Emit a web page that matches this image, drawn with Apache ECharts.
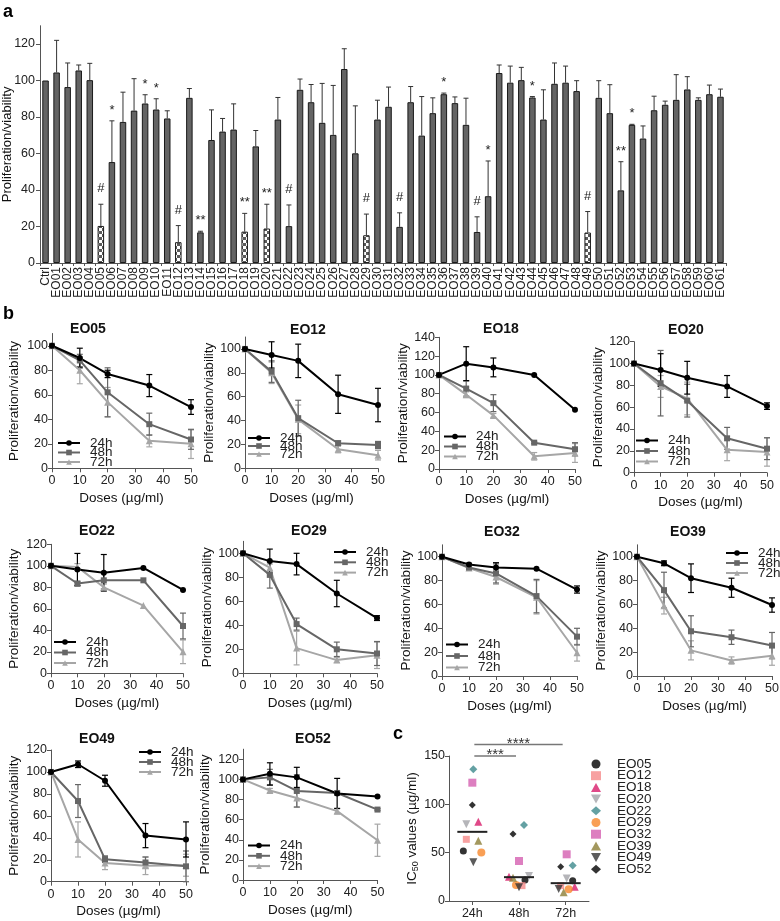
<!DOCTYPE html>
<html><head><meta charset="utf-8">
<script src="https://cdn.jsdelivr.net/npm/echarts@6/dist/echarts.min.js"></script>
<style>html,body{margin:0;padding:0;background:#fff}#c{width:780px;height:921px}</style>
</head><body><div id="c"></div>
<script>
// ---------------- DATA ----------------
// Panel a
const barCategories = ['Ctrl','EO01','EO02','EO03','EO04','EO05','EO06','EO07','EO08','EO09','EO10',
  'EO11','EO12','EO13','EO14','EO15','EO16','EO17','EO18','EO19','EO20','EO21','EO22','EO23','EO24',
  'EO25','EO26','EO27','EO28','EO29','EO30','EO31','EO32','EO33','EO34','EO35','EO36','EO37','EO38',
  'EO39','EO40','EO41','EO42','EO43','EO44','EO45','EO46','EO47','EO48','EO49','EO50','EO51','EO52',
  'EO53','EO54','EO55','EO56','EO57','EO58','EO59','EO60','EO61'];
const barMeans = [100,104.4,96.4,105.5,100.2,20.3,55.3,77.3,83.5,87.4,84.1,79.2,11.4,90.5,16.8,67.4,72,73.1,
  17.2,63.9,18.9,78.6,20.2,94.9,88.1,76.8,70.2,106.3,60.1,15.2,78.6,85.6,19.8,88.1,69.8,82.1,92.5,87.6,75.7,
  17,36.6,104.1,98.8,100.2,90.7,78.6,98.2,98.8,94.2,16.7,90.5,82.1,39.8,75.7,68.2,83.7,86.7,89.4,95.1,89.4,92.5,91.1];
const barSD = [0,17.6,13.2,3,9.2,11.9,22.6,16.3,17.5,4.8,5.9,4.2,9.1,5.1,0.6,16.5,7.2,14.1,10,8.7,13.3,12.1,11.6,
  5.9,9.7,21.6,27.1,11.1,26,11.6,10.6,10.8,7.7,8.6,21.4,8.4,0.6,3.4,14.6,8.3,19.3,4.4,9.1,7,0.5,16.3,11.4,9.1,5.7,
  11.5,9.4,15.6,15.7,0.3,6.9,7.7,2,13.8,7,1.1,5,4.2];
const checkeredBars = ['EO05','EO12','EO18','EO20','EO29','EO49'];
const barMarkNames = ['EO05','EO06','EO09','EO10','EO12','EO14','EO18','EO20','EO22','EO29','EO32','EO36','EO39','EO40','EO44','EO49','EO52','EO53'];
const barMarkTexts = ['#','*','*','*','#','**','**','**','#','#','#','*','#','*','*','#','**','*'];
const aYTicks = [0,20,40,60,80,100,120];

// Panel b
const bNames = ['EO05','EO12','EO18','EO20','EO22','EO29','EO32','EO39','EO49','EO52'];
const doses = [0,10,20,35,50];
const timeNames = ['24h','48h','72h'];
const mean24 = [
  [100,90,77,67.5,50],[100,95,90,62,53],[100,112,108,100,63],[100,94,87,79,61],[100,96.5,93.5,98,77.5],
  [100,93.5,91,66.5,46],[100,93.5,91,90,72.5],[100,94.5,82,74,59.5],[100,107,92,42,38.5],[100,105.5,102,86,83]];
const sd24 = [
  [0,8,3,9,6],[0,11,14,16,14],[0,18,10,0,0],[0,15,15,10,3],[0,15,17,0,0],
  [0,10,9,11,2],[0,1,4,0,3],[0,2,12,8,6],[0,3,5,11,16],[0,11,10,15,0]];
const mean48 = [
  [100,88,62,36,23.5],[100,81,42,21,19.5],[100,85.5,70,28,21],[100,82,66,31.5,22],[100,83.5,86.5,86.5,44],
  [100,82,41,20,16.5],[100,91,86,67,33],[100,72,37.5,32.5,25.5],[100,73.5,20.5,17.5,14],[100,102,88.5,86.5,70]];
const sd48 = [
  [0,5,20,9,8],[0,9,15,2,3],[0,8,9,1,7],[0,30,15,10,10],[0,2,8,0,12],
  [0,11,5,6,10],[0,1,8,14,7],[0,15,13,6,11],[0,15,3,5,14],[0,8,16,1,1]];
const mean72 = [
  [100,80,54,22.5,20],[100,80,41,16,11],[100,79,57,13.5,17],[100,79,68,21,19],[100,99,80,63,20],
  [100,88,21,11,15],[100,90.5,83,66,19.5],[100,59,21.5,13,17],[100,38.5,17,14.5,15],[100,89,81.5,68.5,39.5]];
const sd72 = [
  [0,11,12,5,12],[0,9,12,3,4],[0,3,2,4,10],[0,10,15,10,13],[0,3,3,0,11],
  [0,3,14,2,11],[0,1,6,14,7],[0,7,8,3,8],[0,16,6,8,10],[0,2,9,3,16]];
const bYMax = [110,110,140,120,120,110,110,110,120,130];
const bYTicks = [
  [0,20,40,60,80,100],[0,20,40,60,80,100],[0,20,40,60,80,100,120,140],[0,20,40,60,80,100,120],
  [0,20,40,60,80,100,120],[0,20,40,60,80,100],[0,20,40,60,80,100],[0,20,40,60,80,100],
  [0,20,40,60,80,100,120],[0,20,40,60,80,100,120]];

// Panel c
const icTimes = ['24h','48h','72h'];
const icLines = ['EO05','EO12','EO18','EO20','EO22','EO29','EO32','EO39','EO49','EO52'];
const ic24 = [51.7,63.8,82,79.3,136.2,50.3,122.4,62.4,40,99.3];
const ic48 = [21.7,15.9,25.2,25.9,78.6,16.6,41.4,24.1,14.1,69.3];
const ic72 = [21,15.9,14.8,23.4,36.6,12.1,48.3,9,12.4,35.5];
const cYTicks = [0,50,100,150];
const sigPairs = [[0,1,'***'],[0,2,'****']];
const sigLevels = [150,162];

// ---------------- STYLE ----------------
const NARROW = '"Liberation Sans Narrow","Liberation Sans",Arial,sans-serif';
const REG = '"Liberation Sans",Arial,sans-serif';
const AX = '#555';
const timeColors = ['#000000','#666666','#a6a6a6'];
const timeSymbols = ['circle','rect','triangle'];
const timeSymSize = [6,6,7];
const invTri = 'path://M0,0L10,0L5,9Z';
const icColors = ['#000000','#f58a8a','#d81b6a','#a3a3a8','#3d8a8c','#f7872b','#d45fb0','#8c7e36','#333333','#000000'];
const icSymbols = ['circle','rect','triangle',invTri,'diamond','circle','rect','triangle',invTri,'diamond'];
const icSizes = [7,7,8,8,8,8,8,8,8,7];
const icJitter = [ // px offsets per point, style only
  [-9,-6,6,-6,1,9,0,6,1,0],
  [6,3,-10,10,5,-3,0,-6,0,-6],
  [7,-5,9,1,7,3,1,-2,-7,-5]];

const bLayout = [
  {l:52,t:333.5,w:139,h:134.8,tx:88,ty:329,lg:[57,436],gap:-4.5,ng:31},
  {l:245,t:337,w:133,h:131.3,tx:308,ty:330,lg:[247,431],gap:-6,ng:21},
  {l:439,t:337.3,w:136,h:131.7,tx:501,ty:329,lg:[443,429.5],gap:-4,ng:29},
  {l:634,t:341.7,w:133,h:131,tx:686,ty:330,lg:[635,433.5],gap:-3.5,ng:29},
  {l:51,t:544.3,w:132,h:129,tx:97,ty:531,lg:[53,635],gap:-3.5,ng:30},
  {l:243,t:541.3,w:134,h:132,tx:309,ty:531,lg:[333,545],gap:-3.7,ng:29},
  {l:442,t:544.8,w:135,h:131.2,tx:502,ty:532,lg:[445,637.5],gap:-2.5,ng:28},
  {l:637,t:544.8,w:135,h:131.2,tx:688,ty:532,lg:[725,546],gap:-4,ng:28},
  {l:51,t:750,w:135,h:131.7,tx:97,ty:739,lg:[138,745],gap:-4,ng:30},
  {l:243,t:749.2,w:134.5,h:130.8,tx:313,ty:739,lg:[247,838.5],gap:-3.7,ng:31}
];

function makeChecker(){
  const c=document.createElement('canvas'); c.width=6; c.height=6;
  const g=c.getContext('2d'); g.fillStyle='#ffffff'; g.fillRect(0,0,6,6);
  g.fillStyle='#5a5a5a'; g.fillRect(0,0,3,3); g.fillRect(3,3,3,3);
  return c;
}

const grids=[], xAxes=[], yAxes=[], series=[], legends=[], graphics=[];

function axisBase(){
  return {
    axisLine:{show:true,lineStyle:{color:AX,width:1}},
    axisTick:{show:true,length:4,lineStyle:{color:AX}},
    splitLine:{show:false},
    axisLabel:{color:'#222',fontFamily:NARROW,fontSize:12}
  };
}
function gridBox(l,t,w,h){return {left:l,top:t,width:w,height:h,containLabel:false,outerBoundsMode:'none'};}

// ---------------- PANEL A ----------------
grids.push(gridBox(40,25.75,686,237.25));
xAxes.push(Object.assign(axisBase(),{gridIndex:0,type:'category',data:barCategories,
  axisTick:{show:true,length:3,interval:0,lineStyle:{color:AX}},
  axisLabel:{rotate:90,interval:0,fontSize:12,fontFamily:REG,color:'#222',margin:4}}));
yAxes.push(Object.assign(axisBase(),{gridIndex:0,type:'value',min:0,max:130,
  axisTick:{show:true,length:4,customValues:aYTicks,lineStyle:{color:AX}},
  axisLabel:{customValues:aYTicks,fontSize:12.5,fontFamily:NARROW,color:'#222',margin:5},
  name:'Proliferation/viability',nameLocation:'middle',nameGap:26,nameMoveOverlap:false,
  nameTextStyle:{fontSize:13,fontFamily:NARROW,color:'#111'}}));
const checker = makeChecker();
series.push({type:'bar',xAxisIndex:0,yAxisIndex:0,barWidth:6.5,
  data:barMeans.map((v,i)=>checkeredBars.includes(barCategories[i])
     ? {value:v,itemStyle:{color:{image:checker,repeat:'repeat'}}} : v),
  itemStyle:{color:'#646464',borderColor:'#1a1a1a',borderWidth:1},silent:true});
series.push({type:'custom',xAxisIndex:0,yAxisIndex:0,silent:true,
  data:barMeans.map((v,i)=>[i,v,barSD[i]]),encode:{x:0,y:1},
  renderItem:function(p,api){
    const x=api.value(0),m=api.value(1),s=api.value(2);
    if(!s) return null;
    const b=api.coord([x,m]), t=api.coord([x,m+s]);
    const st={stroke:'#333',lineWidth:1};
    return {type:'group',children:[
      {type:'line',shape:{x1:b[0],y1:b[1],x2:t[0],y2:t[1]},style:st},
      {type:'line',shape:{x1:t[0]-2.5,y1:t[1],x2:t[0]+2.5,y2:t[1]},style:st}]};
  }});
series.push({type:'custom',xAxisIndex:0,yAxisIndex:0,silent:true,
  data:barMarkNames.map((n,k)=>{const i=barCategories.indexOf(n);return [i,barMeans[i]+barSD[i]];}),
  encode:{x:0,y:1},
  renderItem:function(p,api){
    const x=api.value(0),top=api.value(1);
    const txt=barMarkTexts[p.dataIndex];
    const pt=api.coord([x,top]);
    const off = txt==='#'?9:4;
    return {type:'text',x:pt[0],y:pt[1]-off,style:{text:txt,fill:'#222',
      font:'13px '+REG,align:'center',verticalAlign:'bottom'}};
  }});

// ---------------- PANEL B ----------------
const means=[mean24,mean48,mean72], sds=[sd24,sd48,sd72];
bNames.forEach((nm,k)=>{
  const L=bLayout[k], gi=grids.length;
  grids.push(gridBox(L.l,L.t,L.w,L.h));
  xAxes.push(Object.assign(axisBase(),{gridIndex:gi,type:'value',min:0,max:50,interval:10,
    axisLabel:{color:'#222',fontFamily:NARROW,fontSize:12.5,margin:6},
    name:'Doses (µg/ml)',nameLocation:'middle',nameGap:23,
    nameTextStyle:{fontSize:13.5,fontFamily:NARROW,color:'#111'}}));
  yAxes.push(Object.assign(axisBase(),{gridIndex:gi,type:'value',min:0,max:bYMax[k],
    axisTick:{show:true,length:4,customValues:bYTicks[k],lineStyle:{color:AX}},
    axisLabel:{customValues:bYTicks[k],color:'#222',fontFamily:NARROW,fontSize:12.5,margin:4},
    name:'Proliferation/viability',nameLocation:'middle',nameGap:L.ng,
    nameTextStyle:{fontSize:13.5,fontFamily:NARROW,color:'#111'}}));
  for(let t=2;t>=0;t--){
    series.push({type:'custom',name:'err'+t+'_'+nm,xAxisIndex:gi,yAxisIndex:gi,silent:true,z:2,
      data:doses.map((d,j)=>[d,means[t][k][j],sds[t][k][j]]),encode:{x:0,y:1},
      renderItem:(function(col){return function(p,api){
        const x=api.value(0),m=api.value(1),s=api.value(2);
        if(!s) return null;
        const a=api.coord([x,m+s]), b=api.coord([x,m-s]);
        const st={stroke:col,lineWidth:1.2};
        return {type:'group',children:[
          {type:'line',shape:{x1:a[0],y1:a[1],x2:b[0],y2:b[1]},style:st},
          {type:'line',shape:{x1:a[0]-3,y1:a[1],x2:a[0]+3,y2:a[1]},style:st},
          {type:'line',shape:{x1:b[0]-3,y1:b[1],x2:b[0]+3,y2:b[1]},style:st}]};
      };})(timeColors[t])});
  }
  for(let t=2;t>=0;t--){
    series.push({type:'line',name:timeNames[t],xAxisIndex:gi,yAxisIndex:gi,z:3,
      data:doses.map((d,j)=>[d,means[t][k][j]]),
      symbol:timeSymbols[t],symbolSize:timeSymSize[t],showAllSymbol:true,
      lineStyle:{color:timeColors[t],width:2},itemStyle:{color:timeColors[t]},
      emphasis:{disabled:true},animation:false});
  }
  legends.push({orient:'vertical',left:L.lg[0],top:L.lg[1],data:timeNames.slice(),
    itemWidth:22,itemHeight:7,itemGap:L.gap,selectedMode:false,padding:0,
    textStyle:{fontSize:13.5,fontFamily:NARROW,color:'#222',padding:[0,0,0,5]}});
  graphics.push({type:'text',x:L.tx,y:L.ty,style:{text:nm,font:'bold 14px '+NARROW,fill:'#111',
    align:'center',verticalAlign:'middle'}});
});

// ---------------- PANEL C ----------------
const gc=grids.length;
grids.push(gridBox(449,756,140,145));
xAxes.push(Object.assign(axisBase(),{gridIndex:gc,type:'category',data:icTimes,
  axisTick:{show:true,length:4,alignWithLabel:true,lineStyle:{color:AX}},
  axisLabel:{color:'#222',fontFamily:NARROW,fontSize:12.5,margin:6}}));
yAxes.push(Object.assign(axisBase(),{gridIndex:gc,type:'value',min:0,max:150,
  axisTick:{show:true,length:4,customValues:cYTicks,lineStyle:{color:AX}},
  axisLabel:{customValues:cYTicks,color:'#222',fontFamily:NARROW,fontSize:12.5,margin:4},
  name:'IC{s|50} values (µg/ml)',nameLocation:'middle',nameGap:29,
  nameTextStyle:{fontSize:13.5,fontFamily:NARROW,color:'#111',rich:{s:{fontSize:9,fontFamily:NARROW,verticalAlign:'bottom',padding:[6,0,0,0]}}}}));
const icAll=[ic24,ic48,ic72];
icLines.forEach((nm,i)=>{
  series.push({type:'scatter',name:nm,xAxisIndex:gc,yAxisIndex:gc,z:4,
    symbol:icSymbols[i],symbolSize:icSizes[i],itemStyle:{color:icColors[i]},
    data:icAll.map((arr,t)=>({value:[t,arr[i]],symbolOffset:[icJitter[t][i],0]})),
    emphasis:{disabled:true}});
});
function median(a){const s=a.slice().sort((x,y)=>x-y);const n=s.length;return n%2?s[(n-1)/2]:(s[n/2-1]+s[n/2])/2;}
series.push({type:'custom',name:'median',xAxisIndex:gc,yAxisIndex:gc,silent:true,z:5,
  data:icAll.map((arr,t)=>[t,median(arr)]),encode:{x:0,y:1},
  renderItem:function(p,api){const c=api.coord([api.value(0),api.value(1)]);
    return {type:'line',shape:{x1:c[0]-15,y1:c[1],x2:c[0]+15,y2:c[1]},style:{stroke:'#222',lineWidth:2}};}});
series.push({type:'custom',name:'sig',xAxisIndex:gc,yAxisIndex:gc,silent:true,clip:false,
  data:sigPairs.map((s,k)=>[s[0],sigLevels[k]]),encode:{x:0,y:1},
  renderItem:function(p,api){
    const s=sigPairs[p.dataIndex];
    const a=api.coord([s[0],sigLevels[p.dataIndex]]), b=api.coord([s[1],sigLevels[p.dataIndex]]);
    const x1=a[0]+2,x2=b[0]-3;
    return {type:'group',children:[
      {type:'line',shape:{x1:x1,y1:a[1],x2:x2,y2:a[1]},style:{stroke:'#777',lineWidth:1.5}},
      {type:'text',x:(x1+x2)/2,y:a[1]-1,style:{text:s[2],fill:'#333',font:'15px '+REG,align:'center',verticalAlign:'middle'}}]};
  }});
legends.push({orient:'vertical',left:591,top:757,itemWidth:10,itemHeight:9,itemGap:-2.3,selectedMode:false,padding:0,
  data:icLines.map((n,i)=>({name:n,icon:icSymbols[i]})),
  textStyle:{fontSize:13.5,fontFamily:NARROW,color:'#222',padding:[0,0,0,11]}});

// Panel letters
graphics.push({type:'text',x:3,y:12,style:{text:'a',font:'bold 18px '+REG,fill:'#000',verticalAlign:'middle'}});
graphics.push({type:'text',x:3,y:314,style:{text:'b',font:'bold 18px '+REG,fill:'#000',verticalAlign:'middle'}});
graphics.push({type:'text',x:393,y:734,style:{text:'c',font:'bold 18px '+REG,fill:'#000',verticalAlign:'middle'}});

const chart=echarts.init(document.getElementById('c'),null,{renderer:'canvas',width:780,height:921});
chart.setOption({animation:false,backgroundColor:'#ffffff',
  textStyle:{fontFamily:NARROW},
  grid:grids,xAxis:xAxes,yAxis:yAxes,series:series,legend:legends,graphic:graphics});
</script></body></html>
